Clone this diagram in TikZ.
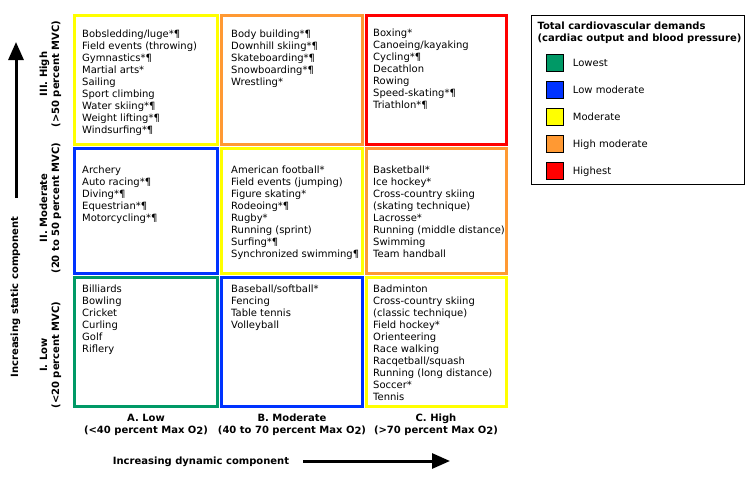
\documentclass[tikz,border=0pt]{standalone}
\usepackage{fontspec}
\setmainfont{DejaVu Sans}
\usetikzlibrary{arrows.meta}
\definecolor{cgreen}{RGB}{0,153,102}
\definecolor{cblue}{RGB}{0,51,255}
\definecolor{cyellow}{RGB}{255,255,0}
\definecolor{corange}{RGB}{255,153,51}
\definecolor{cred}{RGB}{255,0,0}
\newcommand\leftlines[1]{\vtop{\baselineskip=12pt\lineskiplimit=-20pt\halign{##\hfil\cr#1\crcr}}}
\newcommand\midlines[1]{\vtop{\baselineskip=12pt\lineskiplimit=-20pt\halign{\hfil##\hfil\cr#1\crcr}}}
\newcommand\Otwo{O\raisebox{-1.5pt}{2}}
\begin{document}
\begin{tikzpicture}[x=1pt,y=-1pt,
  cellbox/.style={draw=#1, line width=3pt, inner sep=0pt},
  celltext/.style={anchor=base west, inner sep=0pt, font=\fontsize{10}{12}\selectfont},
  axislabel/.style={anchor=base, inner sep=0pt, font=\fontsize{10}{12}\selectfont\bfseries},
  bigarrow/.style={line width=3pt, -{Triangle[length=18pt,width=15pt]}},
  swatch/.style={draw=black, line width=1pt, minimum width=17pt, minimum height=17pt, inner sep=0pt, fill=#1},
  legtext/.style={anchor=base west, inner sep=0pt, font=\fontsize{10}{12}\selectfont}]
\useasboundingbox (0,0) rectangle (756,482);

% cell boxes
\node[cellbox=cyellow, minimum width=143pt, minimum height=129pt] (bA3) at (146,80) {};
\node[cellbox=corange, minimum width=141pt, minimum height=129pt] (bB3) at (292,80) {};
\node[cellbox=cred,    minimum width=140pt, minimum height=129pt] (bC3) at (436.5,80) {};
\node[cellbox=cblue,   minimum width=143pt, minimum height=125pt] (bA2) at (146,211) {};
\node[cellbox=cyellow, minimum width=141pt, minimum height=125pt] (bB2) at (292,211) {};
\node[cellbox=corange, minimum width=140pt, minimum height=125pt] (bC2) at (436.5,211) {};
\node[cellbox=cgreen,  minimum width=143pt, minimum height=129pt] (bA1) at (146,342) {};
\node[cellbox=cblue,   minimum width=141pt, minimum height=129pt] (bB1) at (292,342) {};
\node[cellbox=cyellow, minimum width=140pt, minimum height=129pt] (bC1) at (436.5,342) {};

% cell texts
\node[celltext] (tA3) at (82,37.3) {\leftlines{Bobsledding/luge*¶\cr Field events (throwing)\cr Gymnastics*¶\cr Martial arts*\cr Sailing\cr Sport climbing\cr Water skiing*¶\cr Weight lifting*¶\cr Windsurfing*¶}};
\node[celltext] (tB3) at (231,37.3) {\leftlines{Body building*¶\cr Downhill skiing*¶\cr Skateboarding*¶\cr Snowboarding*¶\cr Wrestling*}};
\node[celltext] (tC3) at (373,36) {\leftlines{Boxing*\cr Canoeing/kayaking\cr Cycling*¶\cr Decathlon\cr Rowing\cr Speed-skating*¶\cr Triathlon*¶}};
\node[celltext] (tA2) at (82,173.3) {\leftlines{Archery\cr Auto racing*¶\cr Diving*¶\cr Equestrian*¶\cr Motorcycling*¶}};
\node[celltext] (tB2) at (231,173.3) {\leftlines{American football*\cr Field events (jumping)\cr Figure skating*\cr Rodeoing*¶\cr Rugby*\cr Running (sprint)\cr Surfing*¶\cr Synchronized swimming¶}};
\node[celltext] (tC2) at (373,173.3) {\leftlines{Basketball*\cr Ice hockey*\cr Cross-country skiing\cr (skating technique)\cr Lacrosse*\cr Running (middle distance)\cr Swimming\cr Team handball}};
\node[celltext] (tA1) at (82,292.3) {\leftlines{Billiards\cr Bowling\cr Cricket\cr Curling\cr Golf\cr Riflery}};
\node[celltext] (tB1) at (231,292.3) {\leftlines{Baseball/softball*\cr Fencing\cr Table tennis\cr Volleyball}};
\node[celltext] (tC1) at (373,292.3) {\leftlines{Badminton\cr Cross-country skiing\cr (classic technique)\cr Field hockey*\cr Orienteering\cr Race walking\cr Racqetball/squash\cr Running (long distance)\cr Soccer*\cr Tennis}};

% row labels
\node[axislabel, rotate=90] (r3) at (47,74) {\midlines{III. High\cr (>50 percent MVC)}};
\node[axislabel, rotate=90] (r2) at (47,208) {\midlines{II. Moderate\cr (20 to 50 percent MVC)}};
\node[axislabel, rotate=90] (r1) at (47,355) {\midlines{I. Low\cr (<20 percent MVC)}};

% column labels
\node[axislabel] (c1) at (146,421) {\midlines{A. Low\cr (<40 percent Max \Otwo)}};
\node[axislabel] (c2) at (292,421) {\midlines{B. Moderate\cr (40 to 70 percent Max \Otwo)}};
\node[axislabel] (c3) at (436,421) {\midlines{C. High\cr (>70 percent Max \Otwo)}};

% axes
\node[axislabel, rotate=90] (staticlab) at (18,297) {Increasing static component};
\coordinate (vs) at (16,198);
\coordinate (ve) at (16,42);
\draw[bigarrow] (vs) -- (ve);
\node[axislabel, anchor=base west] (dynlab) at (112.7,464.5) {Increasing dynamic component};
\coordinate (hs) at (303,461);
\coordinate (he) at (450,461);
\draw[bigarrow] (hs) -- (he);

% legend
\node[draw=black, line width=1pt, minimum width=213pt, minimum height=169pt, inner sep=0pt] (legend) at (638,100) {};
\node[anchor=base west, inner sep=0pt, font=\fontsize{10}{12}\selectfont\bfseries] (legtitle) at (537.3,29.3) {\leftlines{Total cardiovascular demands\cr (cardiac output and blood pressure)}};
\node[swatch=cgreen]  (s1) at (555,63.3) {};
\node[swatch=cblue]   (s2) at (555,90.3) {};
\node[swatch=cyellow] (s3) at (555,117.3) {};
\node[swatch=corange] (s4) at (555,144.3) {};
\node[swatch=cred]    (s5) at (555,171.3) {};
\node[legtext] (l1) at (572.7,66.8) {Lowest};
\node[legtext] (l2) at (572.7,93.8) {Low moderate};
\node[legtext] (l3) at (572.7,120.8) {Moderate};
\node[legtext] (l4) at (572.7,147.8) {High moderate};
\node[legtext] (l5) at (572.7,174.8) {Highest};
\end{tikzpicture}
\end{document}
